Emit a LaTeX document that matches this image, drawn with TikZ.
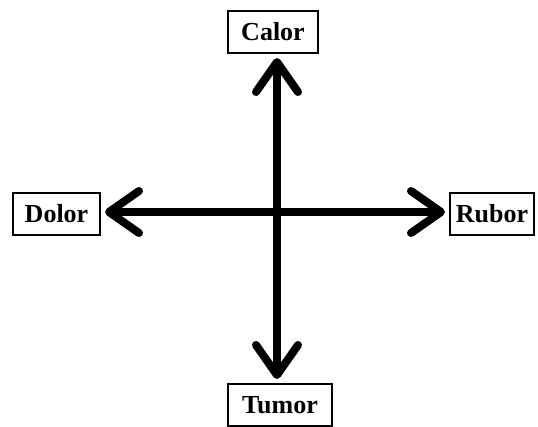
\documentclass[tikz,border=0pt]{standalone}
\usepackage{fontspec}
\setmainfont{Liberation Serif}
\usetikzlibrary{arrows.meta}
\begin{document}
\begin{tikzpicture}[x=1pt,y=-1pt,
  lbl/.style={draw=black, line width=2pt, fill=white, font=\fontsize{26}{30}\selectfont\bfseries,
    inner xsep=0pt, inner ysep=0pt, minimum height=42pt},
  tip/.style={Straight Barb[length=30pt, width=42pt, line cap=round, line join=round]},
  arr/.style={line width=8pt, line cap=round, {Straight Barb[length=30pt, width=42pt, line cap=round, line join=round]}-{Straight Barb[length=30pt, width=42pt, line cap=round, line join=round]},
    shorten <=4pt, shorten >=4pt}]
\useasboundingbox (0,0) rectangle (538,426);
\node[lbl, minimum width=90pt] (calor) at (273,32) {Calor};
\node[lbl, minimum width=87pt] (dolor) at (56.5,214) {Dolor};
\node[lbl, minimum width=84pt] (rubor) at (492,214) {Rubor};
\node[lbl, minimum width=104pt] (tumor) at (280,405) {Tumor};
\coordinate (v) at (277,212);
\draw[arr] (v -| dolor.east) -- (v -| rubor.west);
\draw[arr] (v |- calor.south) -- (v |- tumor.north);
\end{tikzpicture}
\end{document}
